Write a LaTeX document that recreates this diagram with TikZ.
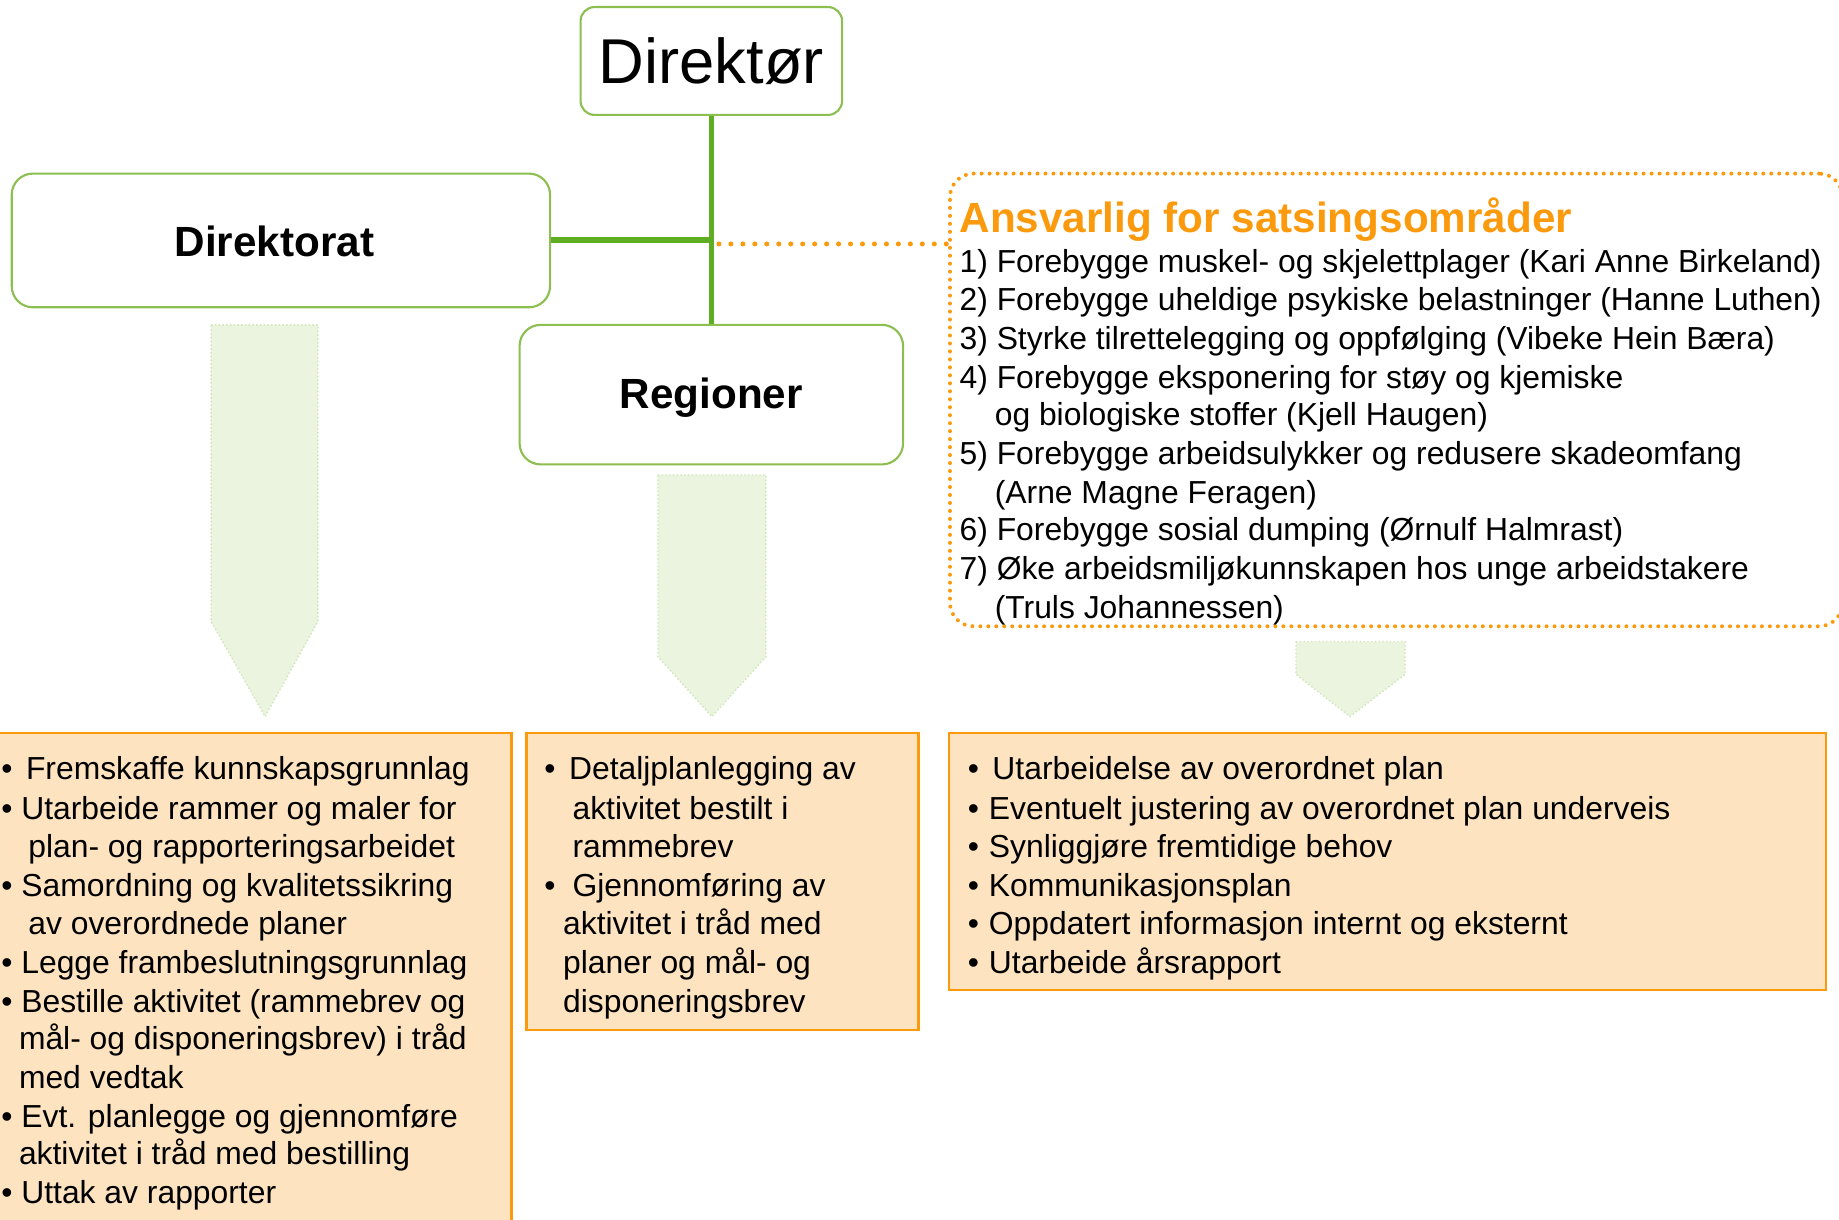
\documentclass[tikz,border=0pt]{standalone}
\usepackage{fontspec}
\setmainfont{Liberation Sans}
\definecolor{boxgreen}{HTML}{8CBF4F}
\definecolor{linegreen}{HTML}{5EAD22}
\definecolor{orng}{HTML}{FC9A0E}
\definecolor{peach}{HTML}{FEE3C1}
\definecolor{arrowfill}{HTML}{EBF4DF}
\definecolor{arrowline}{HTML}{D0E5B8}
\newcommand\txtline[4]{\node[txt] (#1) at (#2,#3) {#4};}
\newcommand\bulline[5]{\node[txt] (#1b) at (#2,#4) {\textbullet};\node[txt] (#1) at (#3,#4) {#5};}
\begin{document}
\begin{tikzpicture}[x=1pt,y=-1pt,
  greenbox/.style={draw=boxgreen, line width=1.8pt, fill=white, rounded corners=#1, inner sep=0pt},
  greenbox/.default=16pt,
  orangebox/.style={draw=orng, line width=2pt, fill=peach, inner sep=0pt},
  dotbox/.style={draw=orng, line width=3.4pt, dash pattern=on 0pt off 6.8pt, line cap=round, rounded corners=20pt, inner sep=0pt},
  conn/.style={draw=linegreen, line width=4pt},
  dotline/.style={draw=orng, line width=4.3pt, dash pattern=on 0pt off 10.2pt, line cap=round},
  downarrow/.style={fill=arrowfill, draw=arrowline, line width=1.2pt, dotted},
  txt/.style={anchor=base west, inner sep=0pt, font=\fontsize{27.15}{32.8}\selectfont},
  boldlabel/.style={font=\fontsize{36}{43}\selectfont\bfseries},
]
\useasboundingbox (0,0) rectangle (1568,1040);

% top boxes
\node[greenbox=12pt, minimum width=223pt, minimum height=92pt] (dir) at (606.5,52) {\fontsize{54}{64}\selectfont Direktør};
\node[greenbox=18pt, minimum width=459pt, minimum height=114pt] (dirat) at (239.5,205) {};
\node[boldlabel] (diratlbl) at (234,206) {Direktorat};
\node[greenbox=18pt, minimum width=327pt, minimum height=119pt] (reg) at (606.5,336.5) {};
\node[boldlabel] (reglbl) at (606.5,339) {Regioner};

% connectors
\coordinate (junc) at (dir.south |- dirat.east);
\draw[conn] (dir.south) -- (reg.north);
\draw[draw=linegreen, line width=5pt] (dirat.east) -- (junc);

% responsible box
\node[dotbox, minimum width=761pt, minimum height=386pt] (ans) at (1190.5,341) {};
\coordinate (dotstart) at (613,208);
\draw[dotline] (dotstart) -- (dotstart -| ans.west);

\node[txt, font=\fontsize{36}{43}\selectfont\bfseries, text=orng] (anstitle) at (818,198) {Ansvarlig for satsingsområder};
\txtline{a1}{818}{232}{1) Forebygge muskel- og skjelettplager (Kari Anne Birkeland)}
\txtline{a2}{818}{265}{2) Forebygge uheldige psykiske belastninger (Hanne Luthen)}
\txtline{a3}{818}{298}{3) Styrke tilrettelegging og oppfølging (Vibeke Hein Bæra)}
\txtline{a4}{818}{331}{4) Forebygge eksponering for støy og kjemiske}
\txtline{a4b}{848}{363}{og biologiske stoffer (Kjell Haugen)}
\txtline{a5}{818}{396}{5) Forebygge arbeidsulykker og redusere skadeomfang}
\txtline{a5b}{848}{429}{(Arne Magne Feragen)}
\txtline{a6}{818}{461}{6) Forebygge sosial dumping (Ørnulf Halmrast)}
\txtline{a7}{818}{494}{7) Øke arbeidsmiljøkunnskapen hos unge arbeidstakere}
\txtline{a7b}{848}{527}{(Truls Johannessen)}

% down arrows
\draw[downarrow] (180,277) -- (271,277) -- (271,530) -- (226,611) -- (180,530) -- cycle;
\draw[downarrow] (561,405) -- (653,405) -- (653,560) -- (607,611) -- (561,560) -- cycle;
\draw[downarrow] (1105,547) -- (1198,547) -- (1198,575) -- (1151,611) -- (1105,575) -- cycle;

% bottom boxes
\node[orangebox, minimum width=438pt, minimum height=425pt] (box1) at (217,837.5) {};
\node[orangebox, minimum width=334pt, minimum height=253pt] (box2) at (616,751.5) {};
\node[orangebox, minimum width=748pt, minimum height=219pt] (box3) at (1183,734.5) {};

% box1 text
\bulline{l1}{1}{22}{665}{Fremskaffe kunnskapsgrunnlag}
\bulline{l2}{1}{18}{699}{Utarbeide rammer og maler for}
\txtline{l2b}{24}{731}{plan- og rapporteringsarbeidet}
\bulline{l3}{1}{18}{764}{Samordning og kvalitetssikring}
\txtline{l3b}{24}{797}{av overordnede planer}
\bulline{l4}{1}{18}{830}{Legge frambeslutningsgrunnlag}
\bulline{l5}{1}{18}{863}{Bestille aktivitet (rammebrev og}
\txtline{l5b}{16}{895}{mål- og disponeringsbrev) i tråd}
\txtline{l5c}{16}{928}{med vedtak}
\bulline{l6}{1}{18}{961}{Evt. planlegge og gjennomføre}
\txtline{l6b}{16}{993}{aktivitet i tråd med bestilling}
\bulline{l7}{1}{18}{1026}{Uttak av rapporter}

% box2 text
\bulline{m1}{464}{485}{665}{Detaljplanlegging av}
\txtline{m1b}{488}{699}{aktivitet bestilt i}
\txtline{m1c}{488}{731}{rammebrev}
\bulline{m2}{464}{488}{764}{Gjennomføring av}
\txtline{m2b}{480}{797}{aktivitet i tråd med}
\txtline{m2c}{480}{830}{planer og mål- og}
\txtline{m2d}{480}{863}{disponeringsbrev}

% box3 text
\bulline{r1}{825}{846}{665}{Utarbeidelse av overordnet plan}
\bulline{r2}{825}{843}{699}{Eventuelt justering av overordnet plan underveis}
\bulline{r3}{825}{843}{731}{Synliggjøre fremtidige behov}
\bulline{r4}{825}{843}{764}{Kommunikasjonsplan}
\bulline{r5}{825}{843}{797}{Oppdatert informasjon internt og eksternt}
\bulline{r6}{825}{843}{830}{Utarbeide årsrapport}
\end{tikzpicture}
\end{document}
